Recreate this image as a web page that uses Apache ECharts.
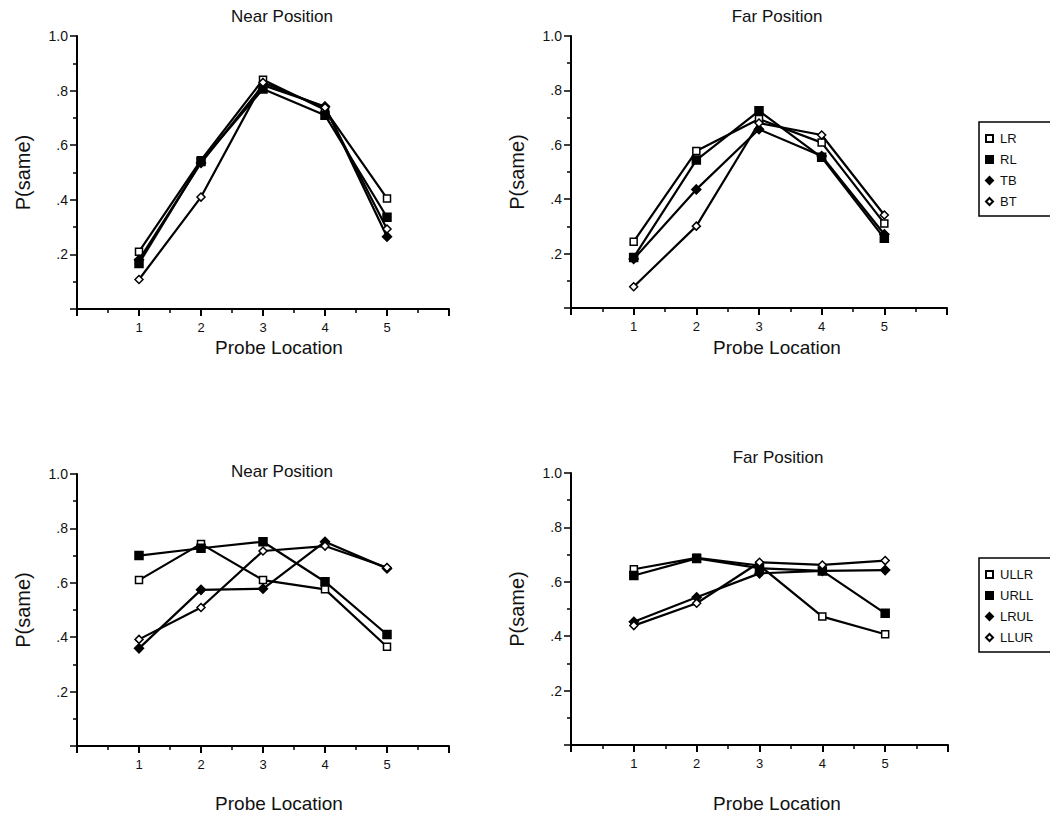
<!DOCTYPE html>
<html>
<head>
<meta charset="utf-8">
<script src="https://cdn.jsdelivr.net/npm/echarts@6/dist/echarts.min.js"></script>
<style>
  html, body { margin: 0; padding: 0; background: #fff; }
  #chart { width: 1050px; height: 817px; }
</style>
</head>
<body>
<div id="chart"></div>
<script>
const probeLocations = [1, 2, 3, 4, 5];

// top row: orientation conditions
const orientNames = ['LR', 'RL', 'TB', 'BT'];
const nearLR = [0.21, 0.545, 0.84, 0.73, 0.405];
const nearRL = [0.167, 0.54, 0.806, 0.71, 0.336];
const nearTB = [0.18, 0.535, 0.82, 0.742, 0.265];
const nearBT = [0.108, 0.41, 0.83, 0.738, 0.293];
const farLR = [0.244, 0.577, 0.695, 0.608, 0.311];
const farRL = [0.186, 0.544, 0.725, 0.554, 0.256];
const farTB = [0.18, 0.436, 0.657, 0.559, 0.271];
const farBT = [0.078, 0.301, 0.68, 0.636, 0.342];

// bottom row: diagonal conditions
const diagNames = ['ULLR', 'URLL', 'LRUL', 'LLUR'];
const nearULLR = [0.61, 0.743, 0.61, 0.576, 0.365];
const nearURLL = [0.70, 0.727, 0.751, 0.604, 0.41];
const nearLRUL = [0.359, 0.574, 0.578, 0.751, 0.653];
const nearLLUR = [0.392, 0.509, 0.717, 0.735, 0.656];
const farULLR = [0.646, 0.688, 0.66, 0.472, 0.407];
const farURLL = [0.623, 0.686, 0.65, 0.64, 0.484];
const farLRUL = [0.453, 0.543, 0.631, 0.64, 0.643];
const farLLUR = [0.439, 0.521, 0.672, 0.662, 0.678];

const yTicks = { 0.2: '.2', 0.4: '.4', 0.6: '.6', 0.8: '.8', 1: '1.0' };

const FONT = '"Liberation Sans", Arial, Helvetica, sans-serif';

const chart = echarts.init(document.getElementById('chart'), null, { renderer: 'svg' });

const grids = [
  { left: 77, top: 36, width: 372, height: 273 },
  { left: 571, top: 36, width: 376, height: 272 },
  { left: 77, top: 474, width: 372, height: 272 },
  { left: 571, top: 473, width: 377, height: 272 }
];

function xAxis(i) {
  return {
    type: 'value', gridIndex: i, min: 0, max: 6, interval: 1,
    axisLine: { show: true, onZero: false, lineStyle: { color: '#000', width: 2 } },
    axisTick: { show: true, length: 7, lineStyle: { color: '#000', width: 2 } },
    minorTick: { show: true, splitNumber: 2, length: 4, lineStyle: { color: '#000', width: 1.5 } },
    axisLabel: {
      margin: 12, color: '#111', fontFamily: FONT, fontSize: 13,
      formatter: v => (v >= 1 && v <= 5 ? String(v) : '')
    },
    splitLine: { show: false }
  };
}

function yAxis(i) {
  return {
    type: 'value', gridIndex: i, min: 0, max: 1, interval: 0.2,
    name: 'P(same)', nameLocation: 'middle', nameGap: 44,
    nameTextStyle: { fontFamily: FONT, fontSize: 20, color: '#111' },
    axisLine: { show: true, onZero: false, lineStyle: { color: '#000', width: 2 } },
    axisTick: { show: true, length: 7, lineStyle: { color: '#000', width: 1.5 } },
    minorTick: { show: true, splitNumber: 2, length: 4, lineStyle: { color: '#000', width: 1.5 } },
    axisLabel: {
      margin: 9, color: '#111', fontFamily: FONT, fontSize: 14,
      formatter: v => yTicks[Math.round(v * 10) / 10] || ''
    },
    splitLine: { show: false }
  };
}

const markers = [
  { symbol: 'rect', fill: '#fff', size: 7 },
  { symbol: 'rect', fill: '#000', size: 8 },
  { symbol: 'diamond', fill: '#000', size: 9 },
  { symbol: 'diamond', fill: '#fff', size: 8 }
];

function line(name, values, gi, k) {
  const m = markers[k];
  return {
    name, type: 'line', xAxisIndex: gi, yAxisIndex: gi,
    data: probeLocations.map((x, j) => [x, values[j]]),
    symbol: m.symbol, symbolSize: m.size, showSymbol: true,
    lineStyle: { color: '#000', width: 2.2 },
    itemStyle: { color: m.fill, borderColor: '#000', borderWidth: 1.5 },
    emphasis: { disabled: true },
    z: 2 + k
  };
}

const series = [
  line('LR', nearLR, 0, 0), line('RL', nearRL, 0, 1), line('TB', nearTB, 0, 2), line('BT', nearBT, 0, 3),
  line('LR', farLR, 1, 0), line('RL', farRL, 1, 1), line('TB', farTB, 1, 2), line('BT', farBT, 1, 3),
  line('ULLR', nearULLR, 2, 0), line('URLL', nearURLL, 2, 1), line('LRUL', nearLRUL, 2, 2), line('LLUR', nearLLUR, 2, 3),
  line('ULLR', farULLR, 3, 0), line('URLL', farURLL, 3, 1), line('LRUL', farLRUL, 3, 2), line('LLUR', farLLUR, 3, 3)
];

function legend(names, top) {
  return {
    data: names.map((n, k) => ({ name: n, icon: markers[k].symbol })),
    orient: 'vertical', left: 979, top,
    itemWidth: 7, itemHeight: 7, itemGap: 8,
    padding: [10, 60, 8, 6],
    borderColor: '#000', borderWidth: 1.5,
    selectedMode: false,
    textStyle: { fontFamily: FONT, fontSize: 13, color: '#111', lineHeight: 12, padding: [0, 0, 0, 2] }
  };
}

function label(text, x, y, size) {
  return {
    type: 'text', x, y,
    style: { text, fontFamily: FONT, fontSize: size, fill: '#111', align: 'center', verticalAlign: 'middle' }
  };
}

chart.setOption({
  animation: false,
  grid: grids,
  xAxis: [0, 1, 2, 3].map(xAxis),
  yAxis: [0, 1, 2, 3].map(yAxis),
  legend: [legend(orientNames, 122), legend(diagNames, 558)],
  graphic: [
    label('Near Position', 282, 16, 17),
    label('Far Position', 777, 16, 17),
    label('Near Position', 282, 471, 17),
    label('Far Position', 778, 457, 17),
    label('Probe Location', 279, 347, 19),
    label('Probe Location', 777, 347, 19),
    label('Probe Location', 279, 803, 19),
    label('Probe Location', 777, 803, 19)
  ],
  series
});
</script>
</body>
</html>
